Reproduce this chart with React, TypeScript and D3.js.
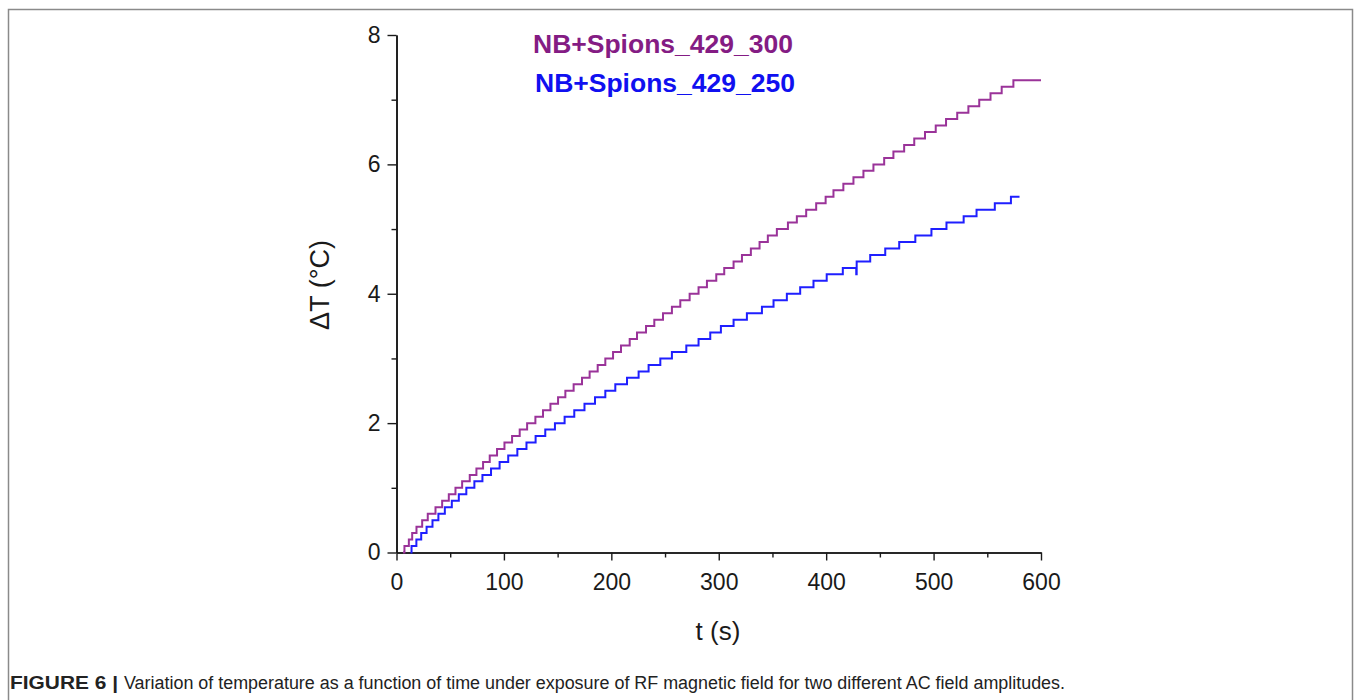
import React, { useRef, useEffect } from 'react';
import * as d3 from 'd3';

// axis ticks
const xMajorTicks = [0, 100, 200, 300, 400, 500, 600];
const xMinorTicks = [50, 150, 250, 350, 450, 550];
const yMajorTicks = [0, 2, 4, 6, 8];
const yMinorTicks = [1, 3, 5, 7];

const seriesNames = ['NB+Spions_429_300', 'NB+Spions_429_250'];

// NB+Spions_429_300 : time (s) at which each reading starts
const purpleTimes = [
    6, 7.4, 11.5, 14.6, 18.6, 23.9, 29.1, 36.3, 42.5, 48.7, 54.9,
    61.1, 68.2, 74.4, 80.6, 86.8, 93.6, 100.5, 107.6, 114.7, 121.6,
    129.3, 136.4, 143.3, 150.4, 157.2, 164.9, 172.7, 179.8, 187.3, 194.4,
    201.6, 209.0, 217.1, 223.9, 232.3, 240.0, 248.1, 256.4, 264.2, 272.9,
    281.2, 289.0, 297.7, 305.1, 313.8, 321.6, 329.9, 338.0, 345.7, 354.1,
    364.4, 372.7, 381.4, 390.7, 399.5, 406.8, 416, 425.4, 434.7, 444,
    454, 462.6, 472.6, 482, 492, 502, 511.6, 522, 532.4, 542.5,
    553, 563.4, 574.3, 600
];
const purpleTemps = [
    0, 0.1, 0.2, 0.3, 0.4, 0.5, 0.6, 0.7, 0.8, 0.9, 1.0,
    1.1, 1.2, 1.3, 1.4, 1.5, 1.6, 1.7, 1.8, 1.9, 2.0,
    2.1, 2.2, 2.3, 2.4, 2.5, 2.6, 2.7, 2.8, 2.9, 3.0,
    3.1, 3.2, 3.3, 3.4, 3.5, 3.6, 3.7, 3.8, 3.9, 4.0,
    4.1, 4.2, 4.3, 4.4, 4.5, 4.6, 4.7, 4.8, 4.9, 5.0,
    5.1, 5.2, 5.3, 5.4, 5.5, 5.6, 5.7, 5.8, 5.9, 6.0,
    6.1, 6.2, 6.3, 6.4, 6.5, 6.6, 6.7, 6.8, 6.9, 7.0,
    7.1, 7.2, 7.3, 7.3
];

// NB+Spions_429_250
const blueTimes = [
    13, 14, 18.5, 23, 28, 33.5, 39, 45, 51.5, 58, 65,
    72.5, 80, 88, 96, 104, 112.5, 121, 129.5, 138.5, 147.5,
    156.5, 165.5, 175, 184.8, 194.4, 203.7, 214.6, 225.4, 234.7, 245.6,
    256.4, 269.8, 281.2, 292.1, 302, 313.8, 326.2, 340.2, 351, 363.4,
    375.8, 388.2, 400.5, 415.5, 428, 428.4, 441, 455, 468, 483,
    498, 512, 528, 540, 557, 572, 580
];
const blueTemps = [
    0, 0.1, 0.2, 0.3, 0.4, 0.5, 0.6, 0.7, 0.8, 0.9, 1.0,
    1.1, 1.2, 1.3, 1.4, 1.5, 1.6, 1.7, 1.8, 1.9, 2.0,
    2.1, 2.2, 2.3, 2.4, 2.5, 2.6, 2.7, 2.8, 2.9, 3.0,
    3.1, 3.2, 3.3, 3.4, 3.5, 3.6, 3.7, 3.8, 3.9, 4.0,
    4.1, 4.2, 4.3, 4.4, 4.3, 4.5, 4.6, 4.7, 4.8, 4.9,
    5.0, 5.1, 5.2, 5.3, 5.4, 5.5, 5.5
];

const FONT = '"Liberation Sans", Arial, sans-serif';

const App = () => {
    const xAxisRef = useRef(null);
    const yAxisRef = useRef(null);

    const x = d3.scaleLinear().domain([0, 600]).range([396.5, 1041]);
    const y = d3.scaleLinear().domain([0, 8]).range([552.5, 35]);

    const line = d3.line<[number, number]>()
        .x(d => x(d[0]))
        .y(d => y(d[1]))
        .curve(d3.curveStepAfter);

    const purpleData = purpleTimes.map((t, i) => [t, purpleTemps[i]] as [number, number]);
    const blueData = blueTimes.map((t, i) => [t, blueTemps[i]] as [number, number]);

    useEffect(() => {
        const gx = d3.select(xAxisRef.current);
        gx.selectAll('*').remove();
        gx.append('g').call(d3.axisBottom(x).tickValues(xMinorTicks).tickSize(5).tickSizeOuter(0).tickFormat(() => ''));
        gx.append('g').call(d3.axisBottom(x).tickValues(xMajorTicks).tickSize(8).tickSizeOuter(0).tickPadding(13).tickFormat(d3.format('d')));

        const gy = d3.select(yAxisRef.current);
        gy.selectAll('*').remove();
        gy.append('g').call(d3.axisLeft(y).tickValues(yMinorTicks).tickSize(5).tickSizeOuter(0).tickFormat(() => ''));
        gy.append('g').call(d3.axisLeft(y).tickValues(yMajorTicks).tickSize(9).tickSizeOuter(0).tickPadding(7).tickFormat(d3.format('d')));

        [gx, gy].forEach(g => {
            g.selectAll('path.domain').attr('stroke', '#1a1a1a').attr('stroke-width', 1.6);
            g.selectAll('line').attr('stroke', '#1a1a1a').attr('stroke-width', 1.4);
            g.selectAll('text')
                .attr('font-family', FONT)
                .attr('font-size', 23)
                .attr('fill', '#1a1a1a');
        });
    }, []);

    return (
        <svg width={1355} height={700}
            style={{ position: 'absolute', left: 0, top: 0, background: '#fff' }}>
            <rect x={8.5} y={9.5} width={1344} height={700} fill="#fff" stroke="#8a8a8a" strokeWidth={1.5} />

            <g ref={xAxisRef} transform={`translate(0,${y(0)})`} />
            <g ref={yAxisRef} transform={`translate(${x(0)},0)`} />

            <path d={line(purpleData) || ''} fill="none" stroke="#9a3399" strokeWidth={2} />
            <path d={line(blueData) || ''} fill="none" stroke="#1f1fff" strokeWidth={2} />

            <text x={533} y={53} fontFamily={FONT} fontWeight="bold" fontSize={26.5} fill="#841c84">{seriesNames[0]}</text>
            <text x={535} y={92} fontFamily={FONT} fontWeight="bold" fontSize={26.5} fill="#1010f0">{seriesNames[1]}</text>

            <text x={718} y={640} textAnchor="middle" fontFamily={FONT} fontSize={26} fill="#1a1a1a">t (s)</text>
            <text transform="translate(329,285) rotate(-90)" textAnchor="middle" fontFamily={FONT} fontSize={27} fill="#1a1a1a">ΔT (°C)</text>

            <text x={10} y={689} fontFamily={'"Liberation Sans Narrow", "Liberation Sans", Arial, sans-serif'}
                fontWeight="bold" fontSize={18} fill="#222" textLength={108} lengthAdjust="spacingAndGlyphs">FIGURE 6 |</text>
            <text x={124} y={689} fontFamily={'"Liberation Sans Narrow", "Liberation Sans", Arial, sans-serif'}
                fontSize={18} fill="#222" textLength={941} lengthAdjust="spacingAndGlyphs">
                Variation of temperature as a function of time under exposure of RF magnetic field for two different AC field amplitudes.
            </text>
        </svg>
    );
};

export default App;
